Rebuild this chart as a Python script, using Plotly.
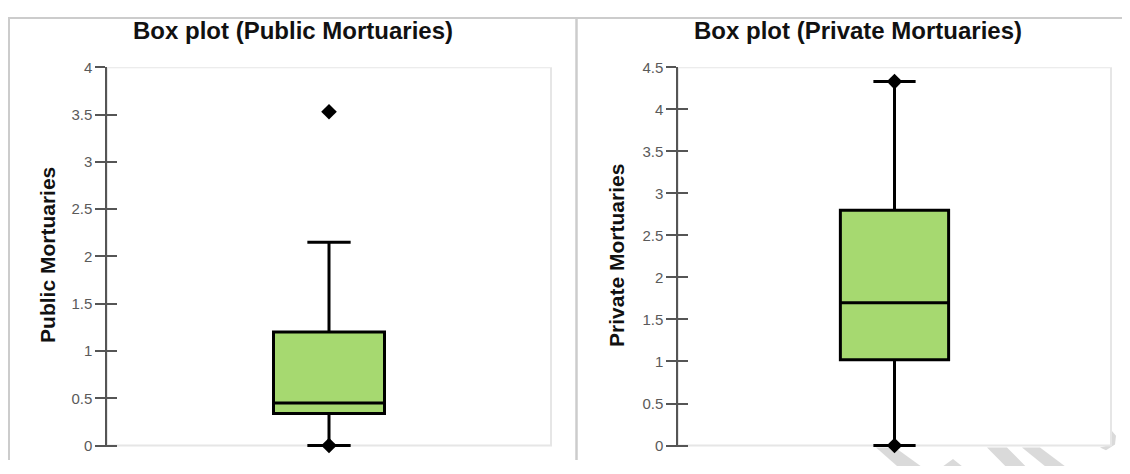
import plotly.graph_objects as go

# the page body keeps an 8px margin; size the figure so that the page fits the window exactly
OFF = 8
W, H = 1130 - 2 * OFF, 474 - 2 * OFF

# ---- data ----
panel_titles = ["Box plot (Public Mortuaries)", "Box plot (Private Mortuaries)"]
axis_titles = ["Public Mortuaries", "Private Mortuaries"]

public_q1 = [0.34]
public_median = [0.45]
public_q3 = [1.20]
public_lower = [0.0]
public_upper = [2.15]
public_points = [0.0, 3.53]   # minimum and outlier

private_q1 = [1.02]
private_median = [1.70]
private_q3 = [2.80]
private_lower = [0.0]
private_upper = [4.33]
private_points = [0.0, 4.33]  # minimum and maximum

public_ticks = [0, 0.5, 1, 1.5, 2, 2.5, 3, 3.5, 4]
public_ticktext = ["0", "0.5", "1", "1.5", "2", "2.5", "3", "3.5", "4"]
private_ticks = [0, 0.5, 1, 1.5, 2, 2.5, 3, 3.5, 4, 4.5]
private_ticktext = ["0", "0.5", "1", "1.5", "2", "2.5", "3", "3.5", "4", "4.5"]

# ---- style ----
FILL = "#a6d970"
AX = "#555555"
TICKFONT = dict(family="Liberation Sans, Arial", size=15, color="#5a5a5a")
TITLEFONT = dict(family="Liberation Sans, Arial", size=24, color="#111111")
AXTITLEFONT = dict(family="Liberation Sans, Arial", size=21, color="#111111")

def px(x):
    return (x - OFF) / W

def py(y):
    return 1 - (y - OFF) / H

y_dom = [py(453), py(60)]
x_dom1 = [px(107), px(551)]
x_dom2 = [px(678), px(1111)]

fig = go.Figure()

fig.add_trace(go.Box(
    x=[0], q1=public_q1, median=public_median, q3=public_q3,
    lowerfence=public_lower, upperfence=public_upper,
    width=0.25, whiskerwidth=0.39, fillcolor=FILL,
    line=dict(color="black", width=3), boxpoints=False,
    xaxis="x", yaxis="y", showlegend=False, hoverinfo="skip"))
fig.add_trace(go.Scatter(
    x=[0] * len(public_points), y=public_points, mode="markers",
    marker=dict(symbol="diamond", size=12, color="black"),
    cliponaxis=False, xaxis="x", yaxis="y3", showlegend=False))

fig.add_trace(go.Box(
    x=[0], q1=private_q1, median=private_median, q3=private_q3,
    lowerfence=private_lower, upperfence=private_upper,
    width=0.25, whiskerwidth=0.39, fillcolor=FILL,
    line=dict(color="black", width=3), boxpoints=False,
    xaxis="x2", yaxis="y2", showlegend=False, hoverinfo="skip"))
fig.add_trace(go.Scatter(
    x=[0] * len(private_points), y=private_points, mode="markers",
    marker=dict(symbol="diamond", size=12, color="black"),
    cliponaxis=False, xaxis="x2", yaxis="y4", showlegend=False))

xcommon = dict(range=[-0.5, 0.5], showticklabels=False, ticks="", showline=False,
               showgrid=False, zeroline=False, fixedrange=True)
ycommon = dict(showgrid=False, zeroline=False, showline=True, linecolor=AX, linewidth=1.5,
               ticks="outside", ticklen=10, tickwidth=1.5, tickcolor=AX, tickfont=TICKFONT,
               domain=y_dom)
yover = dict(showgrid=False, zeroline=False, showline=False, ticks="inside", ticklen=10,
             tickwidth=1.5, tickcolor=AX, showticklabels=False, domain=y_dom)

fig.update_layout(
    width=W, height=H,
    margin=dict(l=0, r=0, t=0, b=0),
    paper_bgcolor="white", plot_bgcolor="white",
    xaxis=dict(domain=x_dom1, anchor="y", **xcommon),
    xaxis2=dict(domain=x_dom2, anchor="y2", **xcommon),
    yaxis=dict(anchor="x", range=[-0.02, 4], tickvals=public_ticks, ticktext=public_ticktext, **ycommon),
    yaxis2=dict(anchor="x2", range=[-0.0225, 4.5], tickvals=private_ticks, ticktext=private_ticktext, **ycommon),
    yaxis3=dict(anchor="x", overlaying="y", range=[-0.02, 4], tickvals=public_ticks, **yover),
    yaxis4=dict(anchor="x2", overlaying="y2", range=[-0.0225, 4.5], tickvals=private_ticks, **yover),
)

shapes = []
# faint watermark strokes peeking out below the right plot area
wm = "#dadada"
def poly(pts):
    return "M " + " L ".join("%.5f,%.5f" % (px(a), py(b)) for a, b in pts) + " Z"
for pts in [
    [(876, 453), (895, 453), (923, 474), (899, 474)],
    [(941, 474), (953, 465), (964, 474)],
    [(987, 453), (1007, 453), (1027, 474), (1007, 474)],
    [(1022, 453), (1040, 453), (1067, 474), (1047, 474)],
    [(1112, 436), (1116, 441), (1115, 450), (1106, 456), (1100, 453), (1112, 450)],
]:
    shapes.append(dict(type="path", xref="paper", yref="paper", path=poly(pts),
                       fillcolor=wm, line=dict(width=0), layer="below"))
# plot area borders
shapes.append(dict(type="rect", xref="x domain", yref="y", x0=0, x1=1, y0=0, y1=4,
                   line=dict(color="#e6e6e6", width=2), layer="below"))
shapes.append(dict(type="rect", xref="x2 domain", yref="y2", x0=0, x1=1, y0=0, y1=4.5,
                   line=dict(color="#e6e6e6", width=2), layer="below"))
# figure frame and separator
frame = "#cccccc"
shapes.append(dict(type="line", xref="paper", yref="paper", x0=0, x1=1, y0=py(9), y1=py(9),
                   line=dict(color=frame, width=2)))
shapes.append(dict(type="line", xref="paper", yref="paper", x0=px(9), x1=px(9), y0=0, y1=py(9),
                   line=dict(color=frame, width=2)))
shapes.append(dict(type="line", xref="paper", yref="paper", x0=px(576.5), x1=px(576.5), y0=0, y1=py(9),
                   line=dict(color=frame, width=2.5)))
fig.update_layout(shapes=shapes)

ann = []
ann.append(dict(text="<b>%s</b>" % panel_titles[0], x=px(292.5), y=py(22), xref="paper", yref="paper",
                showarrow=False, font=TITLEFONT, xanchor="center", yanchor="middle"))
ann.append(dict(text="<b>%s</b>" % panel_titles[1], x=px(858), y=py(22), xref="paper", yref="paper",
                showarrow=False, font=TITLEFONT, xanchor="center", yanchor="middle"))
ann.append(dict(text="<b>%s</b>" % axis_titles[0], x=px(48), y=py(254), xref="paper", yref="paper",
                showarrow=False, font=AXTITLEFONT, textangle=-90, xanchor="center", yanchor="middle"))
ann.append(dict(text="<b>%s</b>" % axis_titles[1], x=px(617), y=py(255), xref="paper", yref="paper",
                showarrow=False, font=AXTITLEFONT, textangle=-90, xanchor="center", yanchor="middle"))
fig.update_layout(annotations=ann)

fig.write_html("out.html")
